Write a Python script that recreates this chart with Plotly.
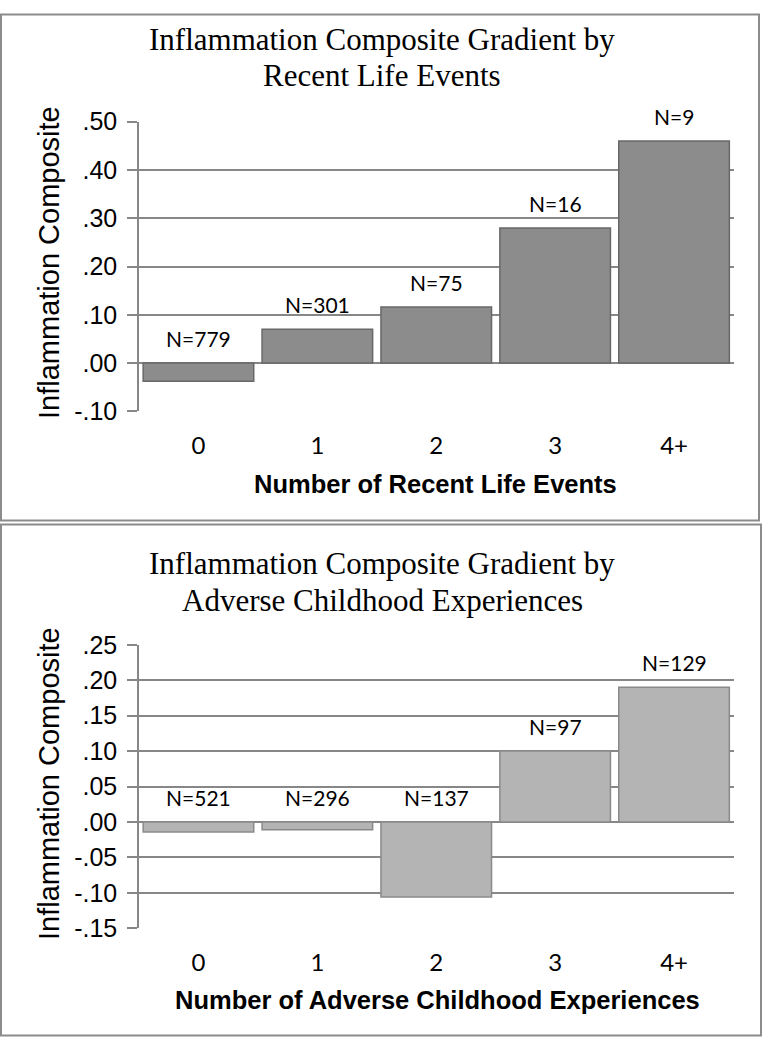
import plotly.graph_objects as go
from plotly.subplots import make_subplots

categories = ["0", "1", "2", "3", "4+"]
life_values = [-0.038, 0.07, 0.116, 0.28, 0.46]
life_n = ["N=779", "N=301", "N=75", "N=16", "N=9"]
ace_values = [-0.014, -0.011, -0.106, 0.10, 0.19]
ace_n = ["N=521", "N=296", "N=137", "N=97", "N=129"]

W, H = 763, 1050
# the photographed picture maps page y -> 14.5 + 0.9714*y ; place items by target picture y
def py(target):
    p = (target - 14.5) / 0.9714
    p = min(max(p, 0.5), H - 0.5)
    return 1 - p / H

fig = make_subplots(rows=2, cols=1)

fig.add_trace(go.Bar(x=categories, y=life_values, marker=dict(color="#8c8c8c", line=dict(color="#686868", width=1.5)),
                     hoverinfo="skip"), row=1, col=1)
fig.add_trace(go.Bar(x=categories, y=ace_values, marker=dict(color="#b4b4b4", line=dict(color="#8a8a8a", width=1.5)),
                     hoverinfo="skip"), row=2, col=1)

xdom = [139 / W, 733.5 / W]
grid = "#878787"
tickfont_y = dict(family="Liberation Sans, Arial", size=25, color="#000")
tickfont_x = dict(family="Lato, Carlito, Calibri, sans-serif", size=24, color="#000")

for i, (dom, rng, dt, fmt) in enumerate([
        ([py(411), py(122)], [-0.1, 0.5], 0.1, [".50", ".40", ".30", ".20", ".10", ".00", "-.10"]),
        ([py(927), py(644)], [-0.15, 0.25], 0.05, [".25", ".20", ".15", ".10", ".05", ".00", "-.05", "-.10", "-.15"])]):
    n = len(fmt)
    tv = [rng[1] - k * dt for k in range(n)]
    fig.update_yaxes(domain=dom, range=rng, tickvals=tv, ticktext=fmt, showgrid=True, gridcolor=grid, gridwidth=1.5,
                     zeroline=False, showline=True, linecolor=grid, linewidth=1.5, ticks="outside", ticklen=10,
                     tickcolor=grid, tickwidth=1.5, tickfont=tickfont_y, ticklabelstandoff=5, row=i + 1, col=1)
    fig.update_xaxes(domain=xdom, showline=False, showgrid=False, ticks="outside", ticklen=13,
                     tickcolor="rgba(0,0,0,0)", tickfont=tickfont_x, row=i + 1, col=1)

fig.update_layout(width=W, height=H, margin=dict(l=0, r=0, t=0, b=0), bargap=0.07, showlegend=False,
                  plot_bgcolor="white", paper_bgcolor="white")

ann = []
for xref, yref, vals, labels in [("x", "y", life_values, life_n), ("x2", "y2", ace_values, ace_n)]:
    for c, v, t in zip(categories, vals, labels):
        ann.append(dict(x=c, y=max(v, 0), xref=xref, yref=yref, text=t, showarrow=False, xanchor="center",
                        yanchor="bottom", yshift=10,
                        font=dict(family="Lato, Carlito, Calibri, sans-serif", size=21, color="#000")))

titlefont = dict(family="Liberation Serif, Times New Roman, serif", size=31, color="#000")
ann += [
    dict(x=382 / W, y=py(40), text="Inflammation Composite Gradient by", font=titlefont),
    dict(x=382 / W, y=py(76), text="Recent Life Events", font=titlefont),
    dict(x=382 / W, y=py(563), text="Inflammation Composite Gradient by", font=titlefont),
    dict(x=382 / W, y=py(600), text="Adverse Childhood Experiences", font=titlefont),
]
ytfont = dict(family="Liberation Sans, Arial, sans-serif", size=29, color="#000")
ann += [
    dict(x=49 / W, y=py(263), text="Inflammation Composite", textangle=-90, font=ytfont),
    dict(x=49 / W, y=py(783), text="Inflammation Composite", textangle=-90, font=ytfont),
]
xtfont = dict(family="Liberation Sans, Arial", size=25.5, color="#000")
ann += [
    dict(x=435 / W, y=py(484), text="<b>Number of Recent Life Events</b>", font=xtfont),
    dict(x=437 / W, y=py(999), text="<b>Number of Adverse Childhood Experiences</b>", font=xtfont),
]
for a in ann[10:]:
    a.update(xref="paper", yref="paper", showarrow=False, xanchor="center", yanchor="middle")
fig.update_layout(annotations=ann)

border = "#8c8c8c"
fig.update_layout(shapes=[
    dict(type="rect", xref="paper", yref="paper", x0=1 / W, x1=759 / W, y0=py(520), y1=py(1), line=dict(color=border, width=2)),
    dict(type="rect", xref="paper", yref="paper", x0=1 / W, x1=761 / W, y0=py(1048), y1=py(524), line=dict(color=border, width=2)),
])

fig.write_html("out.html", config={"displayModeBar": False},
               post_script="document.body.style.margin='0';document.body.style.overflow='hidden';")
